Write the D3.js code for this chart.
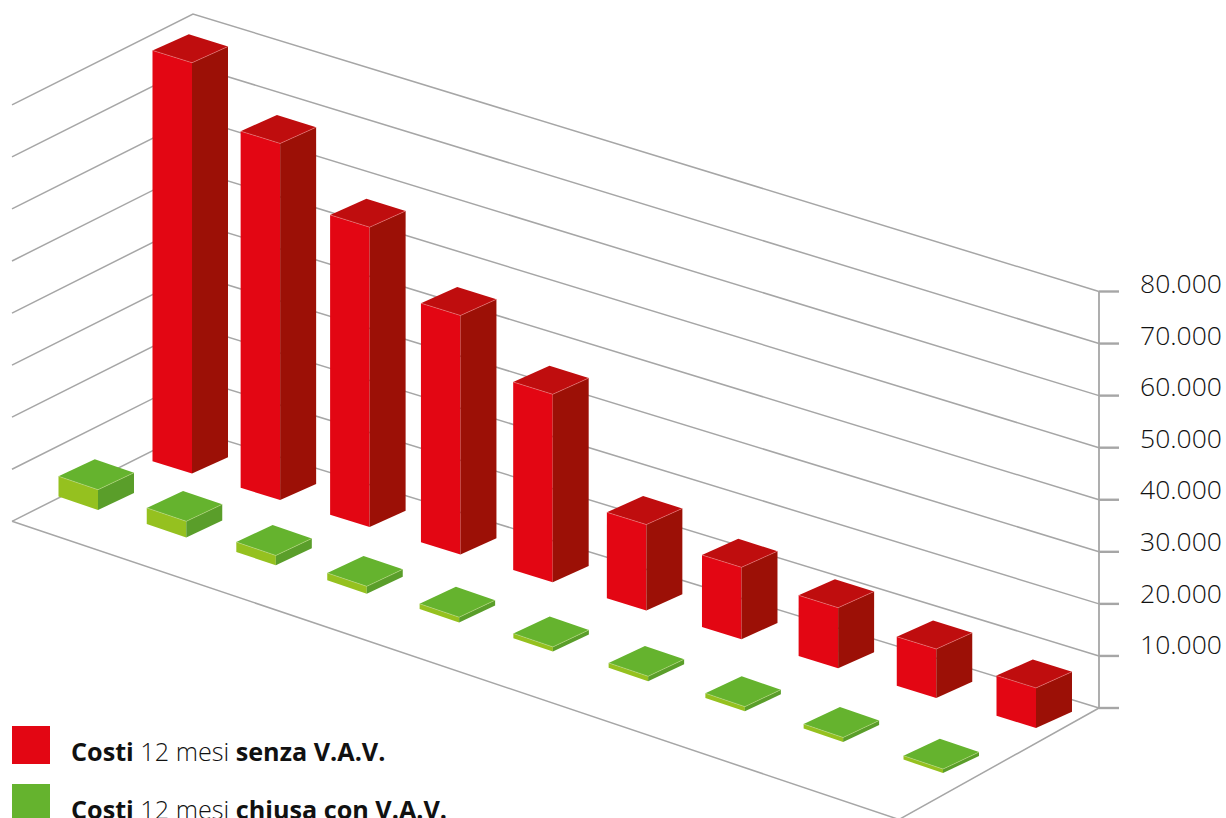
<!DOCTYPE html>
<html>
<head>
<meta charset="utf-8">
<script src="https://cdn.jsdelivr.net/npm/d3@7"></script>
<style>
  html, body { margin: 0; padding: 0; background: #fff; overflow: hidden; }
  text { font-family: "Open Sans", sans-serif; fill: #111; }
</style>
</head>
<body>
<svg id="chart"></svg>
<script>
const width = 1226;
const height = 818;

// Values.
const categories = [1, 2, 3, 4, 5, 6, 7, 8, 9, 10];
const costsWithout = [78900, 68500, 57600, 45900, 36100, 16500, 13800, 11650, 9400, 7700];
const costsWith = [3900, 3100, 1900, 1400, 1000, 900, 950, 900, 850, 750];
const yTicks = [0, 10000, 20000, 30000, 40000, 50000, 60000, 70000, 80000];

const svg = d3.select("#chart")
    .attr("width", width)
    .attr("height", height)
    .attr("viewBox", [0, 0, width, height]);

const locale = d3.formatLocale({ decimal: ",", thousands: ".", grouping: [3], currency: ["", "€"] });
const formatTick = locale.format(",");

// Chart box corners.
const wallX = 193, axisX = 1099, leftX = 12;
const backBase = 430.5, rightBase = 708, leftBase = 521.3;
const frontCorner = [899, 819.5];
const wallHeight = rightBase - 291.5;

const y = d3.scaleLinear().domain([0, 80000]).range([0, wallHeight]);

// Slight perspective along the depth of the floor.
const perspective = 0.072;
const position = d3.scaleLinear().domain([0, categories.length - 1]).range([0, 1]);
const along = i => position(i) / (1 + perspective * (1 - position(i)));

// The two rows of bars, from the far end to the near end (front corner of the base).
const rowWithout = d3.scaleLinear().domain([0, 1]).range([[192, 473.5], [1036, 728]]);
const rowWith = d3.scaleLinear().domain([0, 1]).range([[98, 510], [943, 773]]);

// Offsets of the base corners from the front corner, per row.
const baseWithout = { left: [-39.5, -12.3], right: [36, -16.2], back: [-3.2, -28.5] };
const baseWith = { left: [-39.5, -13.4], right: [36, -17], back: [-3.2, -30.4] };

const gridColor = "#a6a6a6";
const grid = svg.append("g")
    .attr("fill", "none")
    .attr("stroke", gridColor)
    .attr("stroke-width", 1.5);

// Back wall and left wall lines.
grid.selectAll("path.wall")
    .data(yTicks)
    .join("path")
    .attr("class", "wall")
    .attr("d", d => `M${leftX},${leftBase - y(d)}L${wallX},${backBase - y(d)}L${axisX},${rightBase - y(d)}`);

// Floor.
grid.append("path")
    .attr("d", `M${leftX},${leftBase}L${frontCorner}L${axisX},${rightBase}`);

// Value axis on the right.
const axisScale = d3.scaleLinear().domain([0, 80000]).range([rightBase, rightBase - wallHeight]);
const axis = svg.append("g")
    .attr("transform", `translate(${axisX},0)`)
    .call(d3.axisRight(axisScale)
        .offset(0)
        .tickValues(yTicks)
        .tickSize(20)
        .tickSizeOuter(0)
        .tickPadding(21)
        .tickFormat(d => d === 0 ? "" : formatTick(d)));
axis.select(".domain").attr("stroke", gridColor).attr("stroke-width", 1.8);
axis.selectAll(".tick line").attr("stroke", gridColor).attr("stroke-width", 2.4);

// The labels sit a little tighter than the ticks.
const labelShift = d3.scaleLinear().domain([10000, 80000]).range([-1.7, 1.4]);
axis.selectAll(".tick text")
    .attr("dy", null)
    .attr("y", d => labelShift(d))
    .attr("font-family", '"Open Sans", sans-serif')
    .attr("font-weight", 300)
    .attr("font-size", 26.5)
    .attr("fill", "#111");

function drawBars(values, row, base, colors) {
    const bars = svg.append("g")
        .selectAll("g")
        .data(values)
        .join("g");
    const corner = (d, i) => row(along(i));
    const pts = (c, h, list) => list.map(o => [c[0] + o[0], c[1] + o[1] - h].join(",")).join(" ");
    const zero = [0, 0];

    bars.append("polygon")
        .attr("fill", colors.front)
        .attr("points", (d, i) => {
            const c = corner(d, i), h = y(d);
            return [[c[0] + base.left[0], c[1] + base.left[1]], [c[0], c[1]], [c[0], c[1] - h], [c[0] + base.left[0], c[1] + base.left[1] - h]].join(" ");
        });
    bars.append("polygon")
        .attr("fill", colors.side)
        .attr("points", (d, i) => {
            const c = corner(d, i), h = y(d);
            return [[c[0], c[1]], [c[0] + base.right[0], c[1] + base.right[1]], [c[0] + base.right[0], c[1] + base.right[1] - h], [c[0], c[1] - h]].join(" ");
        });
    bars.append("polygon")
        .attr("fill", colors.top)
        .attr("points", (d, i) => pts(corner(d, i), y(d), [zero, base.right, base.back, base.left]));
    // Thin light edges round the top.
    bars.append("polyline")
        .attr("fill", "none")
        .attr("stroke", colors.edge)
        .attr("stroke-width", 0.5)
        .attr("points", (d, i) => pts(corner(d, i), y(d), [base.left, zero, base.right]));
}

drawBars(costsWith, rowWith, baseWith, { front: "#95c11f", side: "#5a9e2a", top: "#65b32e", edge: "#c6dc8c" });
drawBars(costsWithout, rowWithout, baseWithout, { front: "#e30613", side: "#9c1006", top: "#bf0d0e", edge: "#f08a8a" });

// Legend.
const legendItems = [
    { color: "#e30613", parts: [["Costi", 700], [" 12 mesi ", 300], ["senza V.A.V.", 700]] },
    { color: "#65b32e", parts: [["Costi", 700], [" 12 mesi ", 300], ["chiusa con V.A.V.", 700]] }
];
const legend = svg.append("g")
    .selectAll("g")
    .data(legendItems)
    .join("g")
    .attr("transform", (d, i) => `translate(12,${726 + i * 58})`);
legend.append("rect")
    .attr("width", 38)
    .attr("height", 38)
    .attr("fill", d => d.color);
legend.append("text")
    .attr("x", 59)
    .attr("y", 34.5)
    .attr("font-size", 25.2)
    .style("white-space", "pre")
    .selectAll("tspan")
    .data(d => d.parts)
    .join("tspan")
    .attr("font-weight", d => d[1])
    .text(d => d[0]);
</script>
</body>
</html>
